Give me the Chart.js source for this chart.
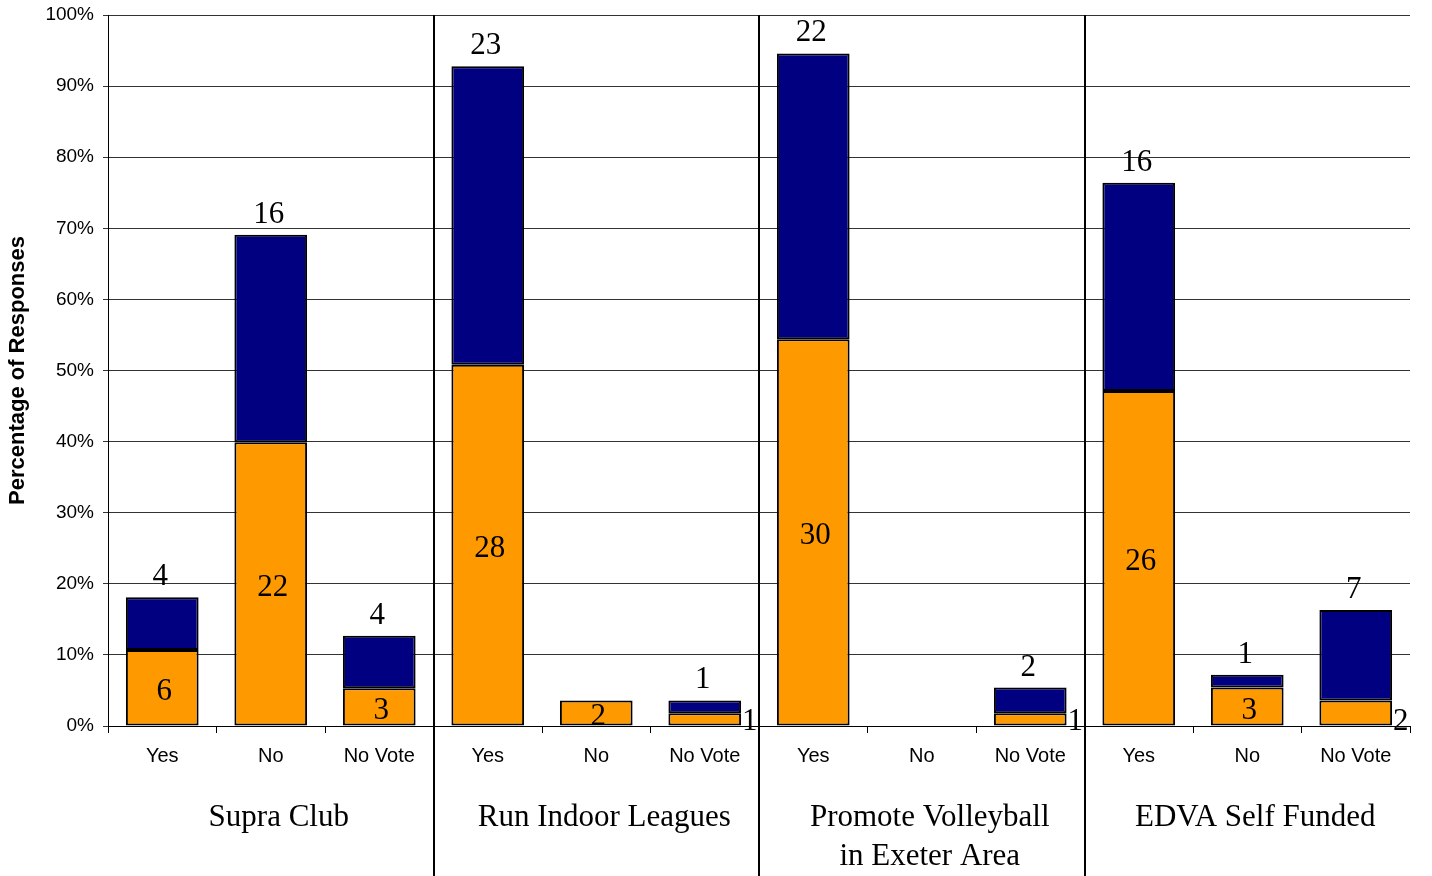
<!DOCTYPE html>
<html>
<head>
<meta charset="utf-8">
<script src="https://cdn.jsdelivr.net/npm/chart.js@4"></script>
<style>
  html, body { margin: 0; padding: 0; background: #fff; }
  canvas { display: block; }
</style>
</head>
<body>
<canvas id="cvChart" width="1432" height="876"></canvas>
<script>
// categories (3 answers per question)
const answers = ["Yes", "No", "No Vote", "Yes", "No", "No Vote", "Yes", "No", "No Vote", "Yes", "No", "No Vote"];
const groups = [["Supra Club"], ["Run Indoor Leagues"], ["Promote Volleyball", "in Exeter Area"], ["EDVA Self Funded"]];

// percentage of responses
const orangePct = [10.7, 39.9, 5.3, 50.8, 3.6, 1.8, 54.4, null, 1.8, 47.1, 5.4, 3.6];
const navyPct = [7.4, 29.2, 7.4, 42.0, null, 1.8, 40.2, null, 3.6, 29.3, 1.8, 12.7];

// response counts written on the bars
const orangeCount = [6, 22, 3, 28, 2, 1, 30, null, 1, 26, 3, 2];
const navyCount = [4, 16, 4, 23, null, 1, 22, null, 2, 16, 1, 7];

const yTicks = [0, 10, 20, 30, 40, 50, 60, 70, 80, 90, 100];

const serif = "'Liberation Serif', 'DejaVu Serif', serif";
const sans = "'Liberation Sans', Arial, sans-serif";

const labelsPlugin = {
    id: "labelsPlugin",
    afterDatasetsDraw(chart) {
        const ctx = chart.ctx;
        const area = chart.chartArea;
        const xs = chart.scales.x;
        const orangeMeta = chart.getDatasetMeta(0);
        const navyMeta = chart.getDatasetMeta(1);
        ctx.save();
        ctx.fillStyle = "#000";
        ctx.font = "31px " + serif;
        ctx.textAlign = "center";
        ctx.textBaseline = "middle";
        orangeCount.forEach((c, i) => {
            if (c == null) return;
            const bar = orangeMeta.data[i];
            const h = bar.base - bar.y;
            if (h < 30 && navyCount[i] != null) {
                ctx.textAlign = "left";
                ctx.fillText(c, bar.x + bar.width / 2 + 1, bar.base - 4);
                ctx.textAlign = "center";
            } else {
                ctx.fillText(c, bar.x + 2, (bar.y + bar.base) / 2 + 4);
            }
        });
        navyCount.forEach((c, i) => {
            if (c == null) return;
            const bar = navyMeta.data[i];
            ctx.textBaseline = "alphabetic";
            ctx.fillText(c, bar.x - 2, bar.y - 12);
        });

        // separators between questions
        ctx.strokeStyle = "#000";
        ctx.lineWidth = 2;
        for (let g = 1; g < groups.length; g++) {
            const x = Math.round((xs.getPixelForValue(g * 3 - 1) + xs.getPixelForValue(g * 3)) / 2);
            ctx.beginPath();
            ctx.moveTo(x, area.top);
            ctx.lineTo(x, chart.height);
            ctx.stroke();
        }

        // question labels
        ctx.textBaseline = "middle";
        ctx.font = "31px " + serif;
        groups.forEach((lines, g) => {
            const x = xs.getPixelForValue(g * 3 + 1);
            lines.forEach((t, k) => {
                ctx.fillText(t, x + 8, area.bottom + 92 + k * 39);
            });
        });
        ctx.restore();
    }
};

const ctx = document.getElementById("cvChart").getContext("2d");
const myChart = new Chart(ctx, {
    type: "bar",
    data: {
        labels: answers,
        datasets: [{
            label: "Orange",
            data: orangePct,
            backgroundColor: "#FF9900",
            borderColor: "#000",
            borderWidth: 2,
            borderSkipped: false,
            barPercentage: 0.67,
            categoryPercentage: 1
        }, {
            label: "Navy",
            data: navyPct,
            backgroundColor: "#000080",
            borderColor: "#000",
            borderWidth: 2,
            borderSkipped: false,
            barPercentage: 0.67,
            categoryPercentage: 1
        }]
    },
    options: {
        responsive: false,
        animation: false,
        devicePixelRatio: 1,
        layout: { padding: { top: 15, right: 22, left: 0, bottom: 0 } },
        plugins: {
            legend: { display: false },
            tooltip: { enabled: false }
        },
        scales: {
            x: {
                stacked: true,
                offset: true,
                grid: { display: true, drawOnChartArea: false, drawTicks: true, tickLength: 7, color: "#000", offset: true },
                border: { display: true, color: "#000", width: 1 },
                ticks: { color: "#000", font: { family: sans, size: 20 }, padding: 11, maxRotation: 0, autoSkip: false },
                afterFit: (scale) => { scale.height = 150; }
            },
            y: {
                stacked: true,
                min: 0,
                max: 100,
                afterBuildTicks: (scale) => { scale.ticks = yTicks.map(v => ({ value: v })); },
                grid: { color: "#333", lineWidth: 1, drawTicks: true, tickLength: 5 },
                border: { display: true, color: "#000", width: 1 },
                ticks: {
                    color: "#000",
                    font: { family: sans, size: 19 },
                    padding: 9,
                    callback: (v) => v + "%"
                },
                title: {
                    display: true,
                    text: "Percentage of Responses",
                    color: "#000",
                    font: { family: sans, size: 22, weight: "bold" },
                    padding: { top: 5, bottom: 0 }
                },
                afterFit: (scale) => {
                    scale.width = 108;
                    scale.paddingTop = 0;
                    scale.paddingBottom = 0;
                }
            }
        }
    },
    plugins: [labelsPlugin]
});
</script>
</body>
</html>
